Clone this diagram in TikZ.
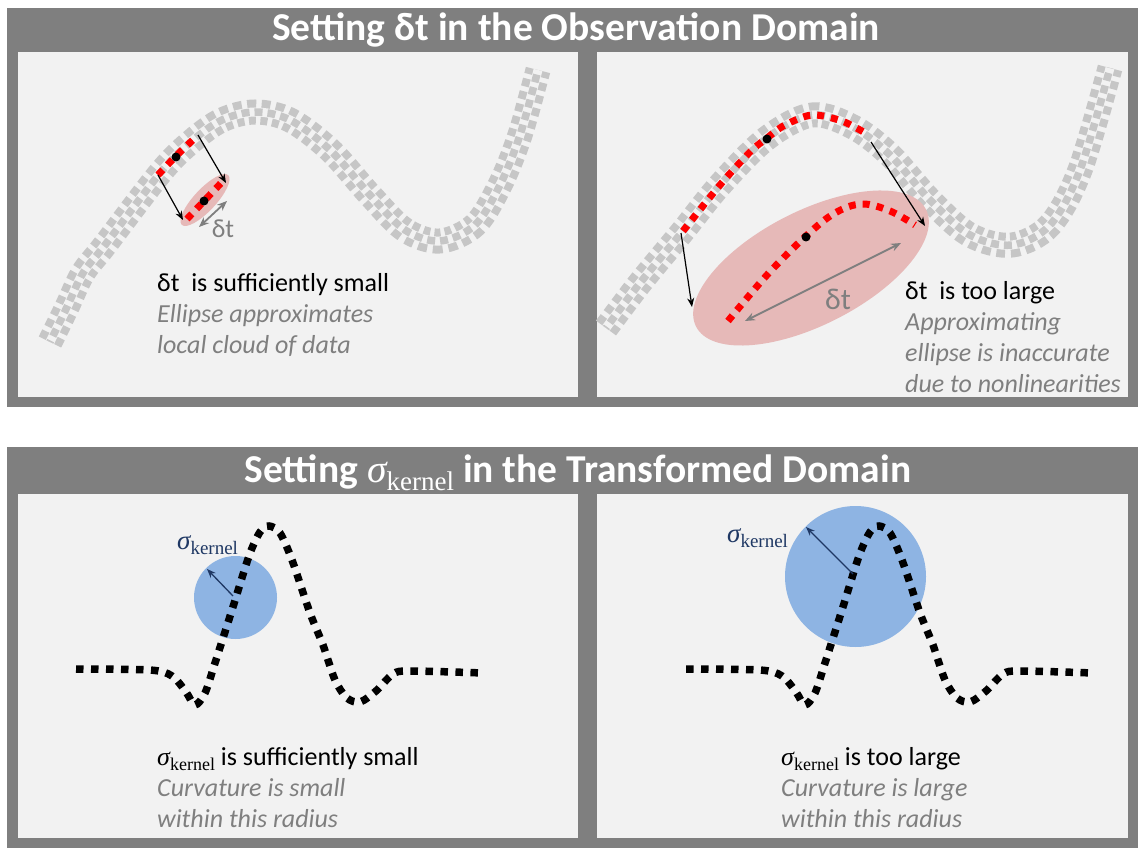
\documentclass[tikz,border=0pt]{standalone}
\usepackage{fontspec}
\setmainfont{Carlito}
\newfontfamily\tms{Liberation Serif}
\usetikzlibrary{arrows.meta}
\definecolor{framegray}{HTML}{7F7F7F}
\definecolor{panelbg}{HTML}{F2F2F2}
\definecolor{bandgray}{HTML}{C6C6C6}
\definecolor{pinkell}{HTML}{E6B9B8}
\definecolor{bluec}{HTML}{8EB4E3}
\definecolor{navy}{HTML}{1F3864}
\definecolor{txtgray}{HTML}{7F7F7F}
\newcommand{\skern}[1]{{\tms\itshape σ}\raisebox{-0.22em}{\tms\fontsize{#1}{#1}\selectfont kernel}}
\begin{document}
\begin{tikzpicture}[x=1pt,y=-1pt,
  bandouter/.style={draw=bandgray, line width=25pt, dash pattern=on 8pt off 5pt},
  bandclear/.style={draw=panelbg, line width=9pt},
  bandcenter/.style={draw=bandgray, line width=7.5pt, dash pattern=on 8pt off 5pt, dash phase=6.5pt},
  reddots/.style={draw=red, line width=7pt, dash pattern=on 7pt off 7pt},
  blackdots/.style={draw=black, line width=7.5pt, dash pattern=on 7.5pt off 7.5pt},
  arr/.style={-{Stealth[length=9pt,width=7pt]}, line width=1.2pt},
  gdarr/.style={{Stealth[length=10pt,width=8pt]}-{Stealth[length=10pt,width=8pt]}, draw=txtgray, line width=1.8pt},
  narr/.style={-{Stealth[length=9pt,width=7pt]}, draw=navy, line width=1.3pt},
  maintxt/.style={anchor=base west, inner sep=0pt, font=\fontsize{26}{31}\selectfont},
  subtxt/.style={anchor=base west, inner sep=0pt, text=txtgray, font=\fontsize{26}{31}\selectfont\itshape},
  titletxt/.style={anchor=base, inner sep=0pt, text=white, font=\fontsize{39.5}{46}\selectfont\bfseries},
  dot/.style={circle, fill=black, inner sep=0pt, minimum size=9pt}
]
\useasboundingbox (0,0) rectangle (1140,850);
\fill[white] (0,0) rectangle (1140,850);
% frames
\fill[framegray] (7,8) rectangle (1138,407);
\fill[panelbg] (18,52) rectangle (578,397);
\fill[panelbg] (597,52) rectangle (1128,397);
\fill[framegray] (7,447) rectangle (1138,848);
\fill[panelbg] (18,494) rectangle (578,838);
\fill[panelbg] (597,494) rectangle (1128,838);
\node[titletxt] (t1) at (576,41) {Setting δt in the Observation Domain};
\node[titletxt] (t2) at (578,482) {Setting {\tms\itshape\mdseries σ}\raisebox{-0.22em}{\tms\mdseries\fontsize{27}{27}\selectfont kernel} in the Transformed Domain};

% ---------- top-left band
\def\bandL{(50,342) (67,307) (83,273) (105,245) (161,172) (192,141) (222,120) (255,112) (290,120) (330,150) (370,195) (405,230) (440,241) (475,225) (500,185) (520,135) (538,70)}
\draw[bandouter] plot[smooth, tension=0.55] coordinates {\bandL};
\draw[bandclear] plot[smooth, tension=0.55] coordinates {\bandL};
\draw[bandcenter] plot[smooth, tension=0.55] coordinates {\bandL};
\draw[reddots] plot[smooth] coordinates {(158,175) (176,156) (195,138)};
\node[dot] (d1) at (176,157) {};
\fill[pinkell, rotate around={47:(205,200)}] (205,200) ellipse [x radius=34, y radius=11];
\draw[reddots] (187,219) -- (223,181);
\node[dot] (d2) at (204,201) {};
\coordinate (a1s) at (198,135); \coordinate (a1e) at (226,183);
\coordinate (a2s) at (158,175); \coordinate (a2e) at (183,220);
\draw[arr] (a1s) -- (a1e);
\draw[arr] (a2s) -- (a2e);
\coordinate (g1s) at (199,227); \coordinate (g1e) at (227,201);
\draw[gdarr] (g1s) -- (g1e);
\node[text=txtgray, inner sep=0pt, font=\fontsize{26}{30}\selectfont] (dt1) at (223,229) {δt};
\node[maintxt] (l1) at (157,291) {δt\ \ is sufficiently small};
\node[subtxt] (l2) at (157,322) {Ellipse approximates};
\node[subtxt] (l3) at (157,353) {local cloud of data};

% ---------- top-right band
\def\bandR{(606,328) (640,283) (683,231) (720,185) (767,138) (812,115) (853,127) (890,155) (930,200) (970,235) (1012,245) (1050,225) (1080,170) (1110,68)}
\draw[bandouter] plot[smooth, tension=0.55] coordinates {\bandR};
\draw[bandclear] plot[smooth, tension=0.55] coordinates {\bandR};
\draw[bandcenter] plot[smooth, tension=0.55] coordinates {\bandR};
\draw[reddots] plot[smooth] coordinates {(683,231) (720,185) (750,152) (767,138) (785,125) (812,115) (842,121) (867,134)};
\node[dot] (d3) at (767,139) {};
\fill[pinkell, rotate around={27:(811,268)}] (811,268) ellipse [x radius=129, y radius=57];
\draw[reddots] plot[smooth, tension=0.6] coordinates {(728,321) (767,275) (806,236) (835,213) (862,204) (890,211) (915,225)};
\node[dot] (d4) at (806,237) {};
\coordinate (a3s) at (871,142); \coordinate (a3e) at (925,226);
\coordinate (a4s) at (681,233); \coordinate (a4e) at (692,307);
\draw[arr] (a3s) -- (a3e);
\draw[arr] (a4s) -- (a4e);
\coordinate (g2s) at (745,321); \coordinate (g2e) at (901,243);
\draw[gdarr] (g2s) -- (g2e);
\node[text=txtgray, inner sep=0pt, font=\fontsize{30}{34}\selectfont] (dt2) at (838,299) {δt};
\node[maintxt] (r1) at (905,299) {δt\ \ is too large};
\node[subtxt] (r2) at (905,330) {Approximating};
\node[subtxt] (r3) at (905,361) {ellipse is inaccurate};
\node[subtxt] (r4) at (905,392) {due to nonlinearities};

% ---------- bottom panels
\def\curveB{(76,669) (150,670) (172,676) (186,692) (195,705) (205,693) (215,663) (232,610) (249,556) (260,532) (269,526) (280,533) (292,560) (310,613) (323,645) (335,680) (347,698) (360,702) (376,691) (393,674) (410,671) (483,673)}
\fill[bluec] (235.5,597.5) circle[radius=41.5];
\draw[blackdots] plot[smooth, tension=0.5] coordinates {\curveB};
\coordinate (c1) at (233,596); \coordinate (c1e) at (207,569);
\draw[narr] (c1) -- (c1e);
\node[anchor=base west, inner sep=0pt, text=navy, font=\fontsize{27}{31}\selectfont] (k1) at (177,549) {\skern{19}};
\node[maintxt] (b1) at (157,765) {\skern{18} is sufficiently small};
\node[subtxt] (b2) at (157,796) {Curvature is small};
\node[subtxt] (b3) at (157,827) {within this radius};

\fill[bluec] (855.5,576.5) circle[radius=70.5];
\begin{scope}[xshift=610pt]
\draw[blackdots] plot[smooth, tension=0.5] coordinates {\curveB};
\end{scope}
\coordinate (c2) at (853,574); \coordinate (c2e) at (806,527);
\draw[narr] (c2) -- (c2e);
\node[anchor=base west, inner sep=0pt, text=navy, font=\fontsize{27}{31}\selectfont] (k2) at (727,542) {\skern{19}};
\node[maintxt] (b4) at (781,765) {\skern{18} is too large};
\node[subtxt] (b5) at (781,796) {Curvature is large};
\node[subtxt] (b6) at (781,827) {within this radius};
\end{tikzpicture}
\end{document}
